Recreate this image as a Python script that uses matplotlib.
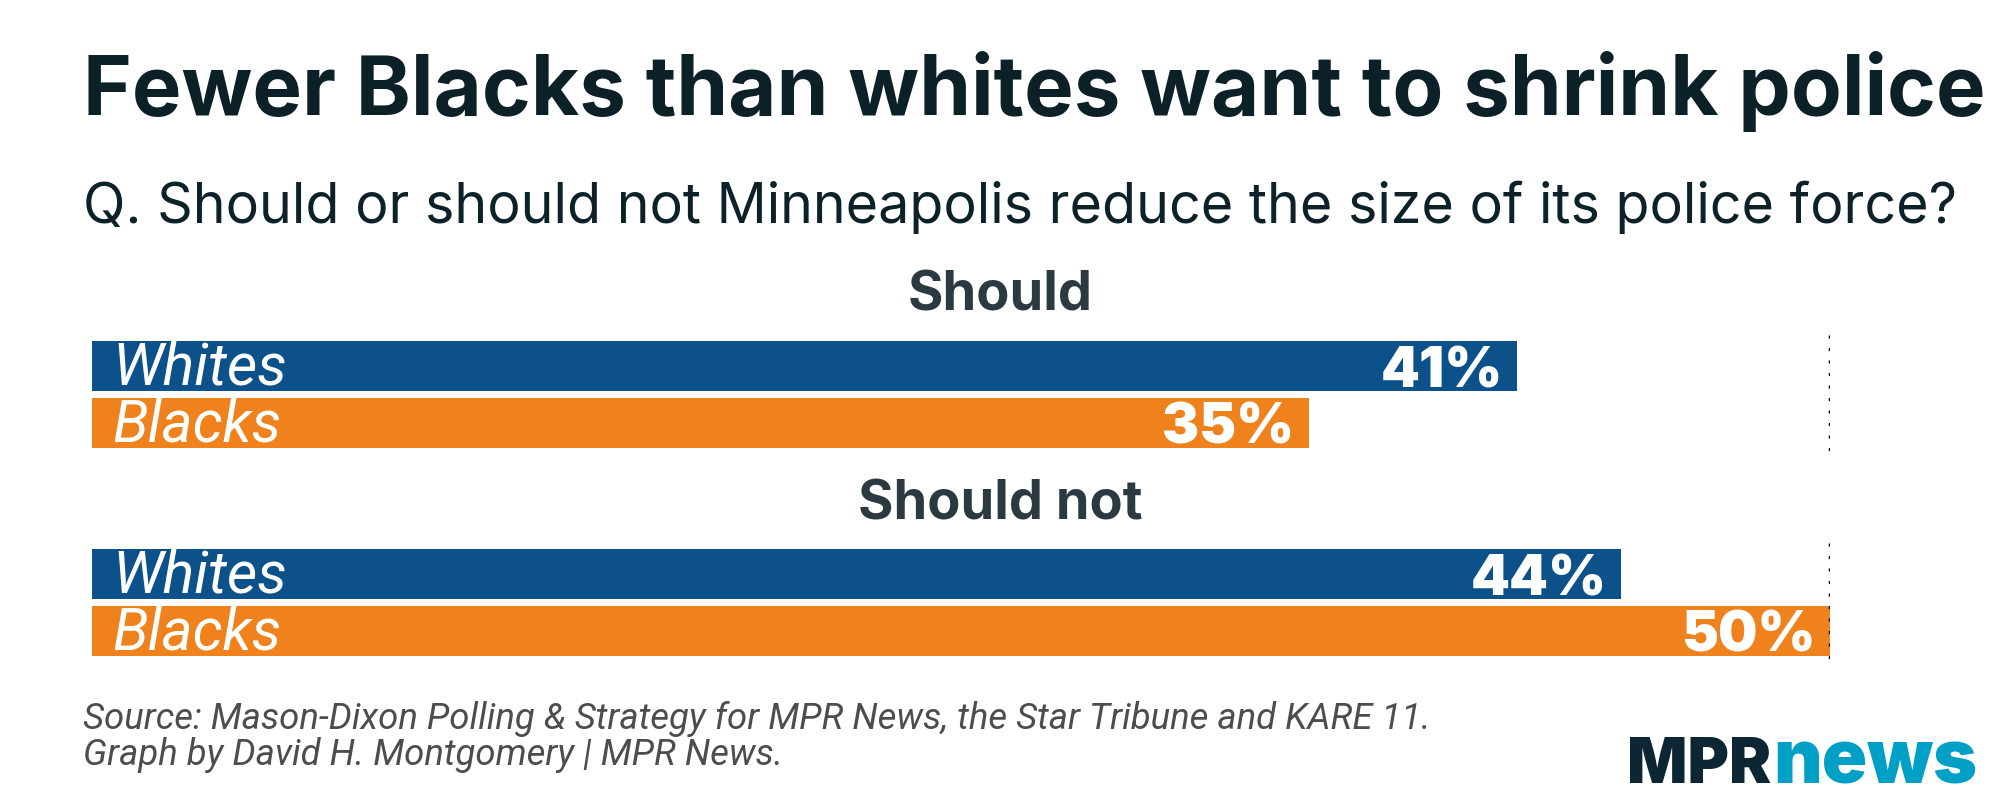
import matplotlib
matplotlib.use('Agg')
import matplotlib.pyplot as plt

# 数据
groups = ['Should', 'Should not']
races = ['Whites', 'Blacks']
values = [[41, 35], [44, 50]]
value_labels = [['41%', '35%'], ['44%', '50%']]

title = 'Fewer Blacks than whites want to shrink police'
subtitle = 'Q. Should or should not Minneapolis reduce the size of its police force?'
source1 = 'Source: Mason-Dixon Polling & Strategy for MPR News, the Star Tribune and KARE 11.'
source2 = 'Graph by David H. Montgomery | MPR News.'

colors = ['#0c5189', '#f0821e']
W, H = 2000, 800

fig = plt.figure(figsize=(20, 8), dpi=100)
fig.patch.set_facecolor('white')

# 坐标轴：x 为百分比，y 用像素位置
x0, x1 = 92, 1830
ax = fig.add_axes([x0 / W, 0, (x1 - x0) / W, 1])
ax.set_xlim(0, 50)
ax.set_ylim(H, 0)
ax.axis('off')

group_tops = [341, 549]
bar_h = 50
gap = 7
cap_lab = 39   # 斜体标签大写高度（像素）
cap_val = 42

for g, top in enumerate(group_tops):
    # 组标题
    fig.text(0.5, 1 - (top - 30) / H, groups[g], ha='center', va='baseline',
             fontsize=39, fontweight='bold', family='Inter', color='#2b3a40')
    for r in range(2):
        y = top + r * (bar_h + gap)
        yc = y + bar_h / 2
        ax.barh(yc, values[g][r], height=bar_h, left=0, color=colors[r], linewidth=0)
        ax.text(0.58, yc + cap_lab / 2, races[r], ha='left', va='baseline',
                fontsize=42.5, family='Roboto', style='italic', color='white')
        ax.text(values[g][r] - 0.42, yc + cap_val / 2, value_labels[g][r], ha='right', va='baseline',
                fontsize=40, family='Inter', fontweight='black', color='white')
    # 虚线参考线
    ax.vlines(50, top - 6, top + 2 * bar_h + gap + 8, color='black', linewidth=2.5,
              linestyle=(0, (0.9, 2.7)), zorder=5)

# 标题与副标题
fig.text(83 / W, 1 - 115 / H, title, ha='left', va='baseline', fontsize=60,
         fontweight='bold', family='Inter', color='#0b2027')
fig.text(83 / W, 1 - 223 / H, subtitle, ha='left', va='baseline', fontsize=40,
         family='Inter', color='#0d2129')

# 来源
fig.text(83 / W, 1 - 729 / H, source1, ha='left', va='baseline', fontsize=26.3,
         family='Roboto', style='italic', color='#4d4d4d')
fig.text(83 / W, 1 - 765 / H, source2, ha='left', va='baseline', fontsize=26.3,
         family='Roboto', style='italic', color='#4d4d4d')

# 标志
fig.text(1771 / W, 1 - 783 / H, 'MPR', ha='right', va='baseline', fontsize=45.5,
         family='Inter', fontweight='black', color='#0d2634')
fig.text(1977 / W, 1 - 783 / H, 'news', ha='right', va='baseline', fontsize=54,
         family='Inter', fontweight='black', color='#00a0c6')

plt.savefig('out.png', dpi=100)
